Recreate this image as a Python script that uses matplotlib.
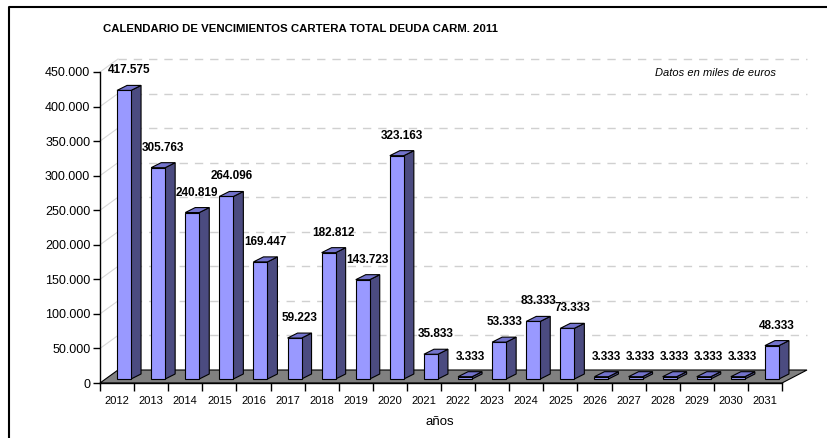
#Calendario de vencimientos - cartera total deuda CARM 2011
#pseudo 3D column chart (Excel style) drawn with plain matplotlib

import numpy as np
import matplotlib.pyplot as plt
from matplotlib.patches import Polygon
from matplotlib.lines import Line2D

plt.rcParams['font.family'] = ['Liberation Sans', 'DejaVu Sans']

years = ['2012', '2013', '2014', '2015', '2016', '2017', '2018', '2019', '2020', '2021',
         '2022', '2023', '2024', '2025', '2026', '2027', '2028', '2029', '2030', '2031']
values = [417575, 305763, 240819, 264096, 169447, 59223, 182812, 143723, 323163, 35833,
          3333, 53333, 83333, 73333, 3333, 3333, 3333, 3333, 3333, 48333]
labels = ['417.575', '305.763', '240.819', '264.096', '169.447', '59.223', '182.812', '143.723',
          '323.163', '35.833', '3.333', '53.333', '83.333', '73.333', '3.333', '3.333', '3.333',
          '3.333', '3.333', '48.333']
yticks = [0, 50000, 100000, 150000, 200000, 250000, 300000, 350000, 400000, 450000]
ytick_labels = ['0', '50.000', '100.000', '150.000', '200.000', '250.000', '300.000',
                '350.000', '400.000', '450.000']

W, H = 827, 438
fig = plt.figure(figsize=(W / 100, H / 100), dpi=100)

# axes box in pixels: x 100..782, y(0)=383, y(450000)=72
ax = fig.add_axes([100 / W, (H - 383) / H, 682 / W, 311 / H])
n = len(years)
ax.set_xlim(0, n)
ax.set_ylim(0, 450000)

px_x = n / 682.0          # data units per pixel, x
px_y = 450000 / 311.0     # data units per pixel, y

# back wall / floor depth
wl = 18 * px_x
wr = 25 * px_x
wd = 13 * px_y

# gridlines on back wall + diagonals from axis
for v in yticks[1:]:
    ax.plot([wl, n + wr], [v + wd, v + wd], color='#d0d0d0', lw=1.0,
            dashes=(6, 5), clip_on=False, zorder=1)
    ax.plot([0, wl], [v, v + wd], color='#d8d8d8', lw=0.8, clip_on=False, zorder=1)

# floor
floor = Polygon([(0, 0), (n, 0), (n + wr, wd), (wl, wd)], closed=True,
                facecolor='#808080', edgecolor='black', lw=0.8, clip_on=False, zorder=2)
ax.add_patch(floor)

# bars
bw = 14 * px_x
sdx = 10 * px_x
sdy = 5 * px_y
base = 4 * px_y
for i, v in enumerate(values):
    c = i + 0.5
    x0, x1 = c, c + bw
    y0, y1 = base, base + v
    side = Polygon([(x1, y0), (x1 + sdx, y0 + sdy), (x1 + sdx, y1 + sdy), (x1, y1)],
                   closed=True, facecolor='#4b4b80', edgecolor='black', lw=0.8,
                   clip_on=False, zorder=4)
    front = Polygon([(x0, y0), (x1, y0), (x1, y1), (x0, y1)], closed=True,
                    facecolor='#9999ff', edgecolor='black', lw=0.8, clip_on=False, zorder=4)
    top = Polygon([(x0, y1), (x1, y1), (x1 + sdx, y1 + sdy), (x0 + sdx, y1 + sdy)],
                  closed=True, facecolor='#7373cc', edgecolor='black', lw=0.8,
                  clip_on=False, zorder=4)
    ax.add_patch(side)
    ax.add_patch(front)
    ax.add_patch(top)
    ax.text(c + 12 * px_x, y1 + sdy + 9 * px_y, labels[i], ha='center', va='bottom',
            fontsize=8.5, fontweight='bold', color='black', zorder=3)

# axes
for s in ['top', 'right']:
    ax.spines[s].set_visible(False)
ax.spines['left'].set_linewidth(1.0)
ax.spines['bottom'].set_linewidth(1.0)
ax.set_yticks(yticks)
ax.set_yticklabels(ytick_labels, fontsize=9)
ax.set_xticks(np.arange(0, n + 1))
ax.set_xticklabels([])
ax.set_xticks(np.arange(n) + 0.5, minor=True)
ax.set_xticklabels(years, minor=True, fontsize=8)
ax.tick_params(axis='x', which='major', length=6, width=1, direction='out')
ax.tick_params(axis='x', which='minor', length=0, pad=9)
ax.tick_params(axis='y', length=5, width=1, direction='out', pad=2)
ax.patch.set_alpha(0)

fig.text(103 / W, 1 - 29 / H, 'CALENDARIO DE VENCIMIENTOS CARTERA TOTAL DEUDA CARM. 2011',
         fontsize=8.2, fontweight='bold', ha='left', va='center')
fig.text(776 / W, 1 - 73 / H, 'Datos en miles de euros', fontsize=8, style='italic',
         ha='right', va='center')
fig.text(440 / W, 1 - 422 / H, 'años', fontsize=9.5, ha='center', va='center')

# chart border (only left and top visible in the crop)
fig.add_artist(Line2D([9 / W, 9 / W, 1.0], [0.0, 1 - 7 / H, 1 - 7 / H],
                      transform=fig.transFigure, color='black', lw=1.5))

fig.savefig('out.png', dpi=100)
